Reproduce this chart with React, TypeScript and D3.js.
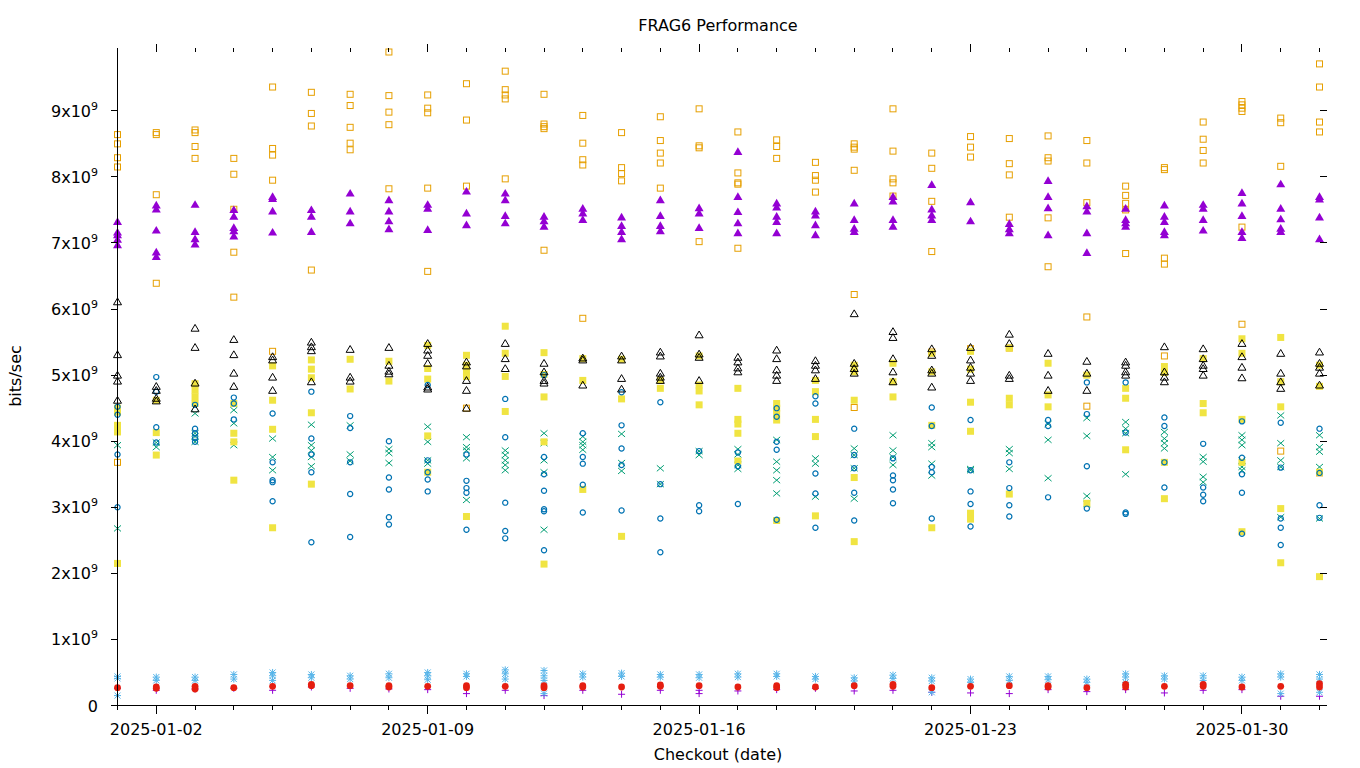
import React from "react";
import * as d3 from "d3";

// Checkout dates (one column per day)
const days: string[] = [
  "2025-01-01","2025-01-02","2025-01-03","2025-01-04","2025-01-05","2025-01-06","2025-01-07","2025-01-08",
  "2025-01-09","2025-01-10","2025-01-11","2025-01-12","2025-01-13","2025-01-14","2025-01-15","2025-01-16",
  "2025-01-17","2025-01-18","2025-01-19","2025-01-20","2025-01-21","2025-01-22","2025-01-23","2025-01-24",
  "2025-01-25","2025-01-26","2025-01-27","2025-01-28","2025-01-29","2025-01-30","2025-01-31","2025-02-01",
];
const xTickLabels: string[] = ["2025-01-02", "2025-01-09", "2025-01-16", "2025-01-23", "2025-01-30"];
const yTicks: number[] = [0, 1, 2, 3, 4, 5, 6, 7, 8, 9]; // in units of 10^9 bits/sec
const yMax = 9.89;

// values in 10^9 bits/sec, one list per day
const purplePlus: number[][] = [
  [0.26],[0.23],[0.25],[0.26],[0.23],[0.28],[0.26],[0.25],[0.24],[0.18],[0.23],[0.15],[0.23],[0.17],[0.23],[0.23,0.18],
  [0.22],[0.24],[0.26],[0.22],[0.23],[0.20],[0.19],[0.18],[0.24],[0.21],[0.24],[0.19],[0.23],[0.24],[0.14],[0.14],
];
const greenCross: number[][] = [
  [3.94,2.68],[3.98,3.91],[4.42,4.12,4.07,3.99],[4.47,4.27,3.94],[4.04,3.76,3.56],[4.25,3.94,3.86,3.76,3.62],
  [4.24,3.80,3.70],[3.88,3.82,3.67],[4.22,3.99,3.71,3.66],[4.06,3.91,3.86,3.74,3.11],[3.86,3.79,3.71,3.64,3.56],
  [4.12,3.97,3.71,3.53,2.66],[4.07,3.99,3.94,3.87],[4.11,3.67,3.55],[3.59,3.35],[3.85,3.79],[3.88,3.80,3.64,3.58],
  [4.02,3.69,3.56,3.41,3.21],[3.74,3.66,3.16],[3.89,3.79,3.59,3.13],[4.09,3.86,3.76,3.64],[3.97,3.91,3.66,3.48],
  [3.58,3.56],[3.88,3.82,3.58],[4.26,4.02,3.44],[4.35,4.08,3.17,3.05],[4.29,4.19,4.12,3.50],[4.14,4.04,3.97,3.89],
  [3.76,3.69,3.46,3.38],[4.09,4.02,3.94,3.71,3.61,3.56],[4.39,3.97,3.71,3.61,2.85],[4.09,3.91,3.84,3.61,2.83],
];
const lightBlueStar: number[][] = [
  [0.44,0.41,0.15],[0.43,0.38],[0.43,0.38],[0.47,0.40],[0.50,0.45,0.38],[0.47,0.42],[0.45,0.40],[0.48,0.42],
  [0.50,0.45,0.39],[0.48,0.44],[0.54,0.48,0.40],[0.53,0.45,0.38,0.18],[0.48,0.43],[0.49,0.44],[0.47,0.43],[0.47,0.42],
  [0.48,0.43],[0.48,0.44],[0.44,0.40],[0.42,0.37],[0.46,0.41],[0.42,0.37,0.20],[0.40,0.35],[0.44,0.38],
  [0.44,0.39],[0.40,0.35],[0.48,0.43,0.35],[0.45,0.40],[0.45,0.38],[0.43,0.38],[0.48,0.43,0.18],[0.47,0.40,0.20],
];
const orangeSquare: number[][] = [
  [8.64,8.50,8.29,8.15,3.68],[8.67,8.64,7.73,6.39],[8.71,8.67,8.46,8.28],[8.28,8.04,7.51,6.86,6.18],
  [9.36,8.43,8.33,7.95,5.36],[9.28,8.96,8.77,6.59],[9.25,9.08,8.75,8.51,8.41],[9.89,9.23,8.98,8.79,7.82],
  [9.24,9.04,8.97,7.83,6.57],[9.41,8.86,7.86,4.50],[9.60,9.32,9.24,9.18,7.97],[9.25,8.80,8.76,8.73,6.89],
  [8.93,8.51,8.26,8.18,5.86],[8.67,8.14,8.05,7.94],[8.91,8.55,8.36,8.21,7.83],[9.03,8.47,8.44,7.02],
  [8.68,8.06,7.91,7.89,6.92],[8.56,8.46,8.28],[8.22,8.02,7.95,7.77],[8.50,8.45,8.42,8.10,6.22,4.51],
  [9.03,8.39,7.97,7.91,7.71],[8.36,8.13,7.63,6.87,5.35],[8.61,8.45,8.30,5.40],[8.58,8.20,8.03,7.39,5.41],
  [8.62,8.29,8.24,7.38,6.64],[8.55,8.21,7.61,5.88,4.53],[7.86,7.72,7.60,7.50,6.84],[8.14,8.11,6.77,6.68,5.29],
  [8.83,8.57,8.40,8.21],[9.14,9.09,9.04,8.99,7.24,5.77],[8.89,8.82,8.16,3.85],[9.71,9.36,8.83,8.68,3.52],
];
const yellowSquare: number[][] = [
  [4.50,4.44,4.24,4.19,4.14,2.15],[4.62,4.13,3.79],[4.87,4.77,4.67,4.57],[4.57,4.12,3.99,3.41],
  [5.14,4.62,4.18,2.69],[5.23,5.09,4.96,4.43,3.35],[5.24,4.79],[5.21,4.91],[5.45,5.10,4.94,4.08,3.53],
  [5.30,5.15,5.05,4.98,2.86],[5.74,5.33,4.98,4.45],[5.34,5.01,4.67,3.99,2.14],[5.25,4.92,3.27],[5.24,4.64,2.56],
  [4.92,4.80],[5.29,4.85,4.76,4.55],[4.80,4.33,4.26,4.12,3.70],[4.57,4.50,4.42,4.32,2.80],[4.92,4.75,4.33,4.07,2.87],
  [5.15,5.05,4.62,3.45,2.48],[5.18,4.90,4.67],[5.33,5.05,4.24,2.69],[5.36,5.09,4.59,4.15,2.91,2.82],
  [5.41,4.65,4.55,3.20],[5.18,4.70,4.52],[5.00,3.06],[4.80,4.65,3.87],[5.13,5.04,3.68,3.13],[5.25,4.57,4.43],
  [5.55,5.33,4.33,3.68,2.63],[5.57,4.90,4.52,2.98,2.16],[5.15,4.83,3.53,1.95],
];
const blueCircle: number[][] = [
  [4.52,4.40,3.80,3.00],[4.97,4.75,4.21,3.98],[4.55,4.19,4.12,4.05,3.99],[4.66,4.57,4.33],[4.42,3.68,3.41,3.38,3.09],
  [4.75,4.04,3.80,3.53,2.47],[4.38,4.20,3.68,3.20,2.55],[4.00,3.45,3.27,2.85,2.74],[4.85,3.71,3.53,3.42,3.24],
  [3.80,3.40,3.29,3.22,2.66],[4.64,4.06,3.07,2.64,2.53],[5.00,3.76,3.50,3.25,2.97,2.94,2.35],[4.12,3.76,3.66,3.34,2.92],
  [4.74,4.24,3.89,3.64,2.95],[4.59,3.35,2.83,2.32],[3.85,3.03,2.94],[3.83,3.62,3.05],[4.50,4.37,3.99,3.87,2.81],
  [4.68,4.57,3.51,3.21,2.69],[4.19,3.79,3.59,3.22,2.80],[3.74,3.48,3.41,3.27,3.06],[4.51,4.23,3.61,3.53,2.83],
  [4.32,3.56,3.24,3.05,2.71],[3.68,3.29,3.03,2.86],[4.32,4.23,3.15],[4.89,4.41,3.62,2.98],[4.89,4.13,2.92,2.90],
  [4.36,4.23,3.68,3.30],[3.96,3.30,3.19,3.09],[4.30,3.75,3.50,3.22,2.60],[4.28,3.60,2.83,2.69,2.43],[4.19,3.52,3.03,2.84],
];
const redDot: number[][] = [
  [0.27],[0.28,0.26],[0.29,0.25],[0.27],[0.29],[0.30,0.32],[0.30],[0.30,0.28],[0.29],[0.30,0.27],[0.29],[0.30,0.27],
  [0.28,0.30],[0.28],[0.29,0.31],[0.30],[0.28],[0.30,0.27],[0.28],[0.30],[0.29,0.32],[0.27],[0.29],[0.30],
  [0.28,0.30],[0.27],[0.32,0.28],[0.29],[0.32,0.29],[0.28],[0.29],[0.33,0.28],
];
const blackTriangle: number[][] = [
  [6.11,5.31,5.00,4.91,4.62],[4.83,4.77,4.65,4.61],[5.71,5.42,4.88,4.49],[5.54,5.31,5.03,4.83],[5.28,5.23,4.97,4.77],
  [5.50,5.43,5.37,4.90],[5.39,4.97,4.91],[5.42,5.15,5.06,5.02],[5.48,5.38,5.30,5.18,4.82,4.79],[5.20,5.14,4.92,4.77,4.50],
  [5.48,5.25,5.10],[5.18,5.05,4.92,4.88],[5.26,5.23,4.85],[5.29,5.23,4.95,4.79],[5.35,5.29,5.03,4.97,4.92],
  [5.61,5.32,5.27,4.92],[5.27,5.20,5.11,5.05],[5.38,5.25,5.08,5.00,4.92],[5.22,5.15,5.08,4.95],[5.93,5.18,5.10,5.03],
  [5.66,5.57,5.25,5.05,4.90],[5.40,5.30,5.08,5.03,4.82],[5.42,5.23,5.12,5.03,4.92],[5.62,5.48,5.00,4.95],
  [5.33,5.00,4.77],[5.21,5.03,4.77],[5.20,5.15,5.05,5.00],[5.43,5.05,4.97,4.90],[5.40,5.25,5.15,5.10,5.00],
  [5.48,5.28,5.12,4.96],[5.33,5.03,4.90,4.80],[5.35,5.18,5.12,5.03,4.85],
];
const purpleTriangle: number[][] = [
  [7.32,7.16,7.12,7.05,6.97],[7.57,7.51,7.19,6.86,6.79],[7.58,7.17,7.06,6.98],[7.50,7.40,7.23,7.18,7.10],
  [7.70,7.67,7.48,7.16],[7.50,7.40,7.17],[7.75,7.48,7.30],[7.65,7.48,7.33,7.21],[7.58,7.52,7.20],[7.78,7.45,7.27],
  [7.75,7.65,7.41,7.30],[7.40,7.33,7.25],[7.52,7.45,7.35],[7.39,7.26,7.17,7.06],[7.65,7.41,7.26,7.18],[7.53,7.45,7.23],
  [8.38,7.70,7.47,7.30,7.15],[7.60,7.54,7.40,7.32,7.15],[7.48,7.42,7.27,7.12],[7.60,7.35,7.22,7.17],[7.70,7.63,7.35,7.25],
  [7.88,7.51,7.42,7.35],[7.62,7.33],[7.29,7.21,7.15],[7.94,7.70,7.53,7.12],[7.56,7.48,7.15,6.85],[7.52,7.35,7.30,7.25],
  [7.57,7.40,7.32,7.17,7.12],[7.58,7.52,7.35,7.19],[7.76,7.60,7.41,7.17,7.08],[7.89,7.52,7.36,7.22,7.17],[7.70,7.66,7.39,7.06],
];

type Shape = "plus" | "cross" | "star" | "square" | "fsquare" | "circle" | "fcircle" | "triangle" | "ftriangle";
const seriesList: { data: number[][]; color: string; shape: Shape }[] = [
  { data: purplePlus, color: "#9400D3", shape: "plus" },
  { data: greenCross, color: "#009E73", shape: "cross" },
  { data: lightBlueStar, color: "#56B4E9", shape: "star" },
  { data: orangeSquare, color: "#E69F00", shape: "square" },
  { data: yellowSquare, color: "#F0E442", shape: "fsquare" },
  { data: blueCircle, color: "#0072B2", shape: "circle" },
  { data: redDot, color: "#E51E10", shape: "fcircle" },
  { data: blackTriangle, color: "#000000", shape: "triangle" },
  { data: purpleTriangle, color: "#9400D3", shape: "ftriangle" },
];

const W = 1360, H = 768;
const left = 117.5, right = 1319.5, top = 52, bottom = 705.5;
const FONT = "'DejaVu Sans', sans-serif";

function Marker({ shape, color, x, y }: { shape: Shape; color: string; x: number; y: number }) {
  const t = `translate(${x},${y})`;
  switch (shape) {
    case "plus":
      return <path transform={t} d="M-3.5,0H3.5M0,-3.5V3.5" stroke={color} strokeWidth={1} fill="none" />;
    case "cross":
      return <path transform={t} d="M-3.5,-3L3.5,3M-3.5,3L3.5,-3" stroke={color} strokeWidth={1} fill="none" />;
    case "star":
      return <path transform={t} d="M-3.5,0H3.5M0,-3.5V3.5M-3,-3L3,3M-3,3L3,-3" stroke={color} strokeWidth={1} fill="none" />;
    case "square":
      return <rect transform={t} x={-3} y={-3} width={6} height={6} stroke={color} strokeWidth={1} fill="none" />;
    case "fsquare":
      return <rect transform={t} x={-3.5} y={-3.5} width={7} height={7} fill={color} />;
    case "circle":
      return <circle transform={t} r={2.6} stroke={color} strokeWidth={1.2} fill="none" />;
    case "fcircle":
      return <circle transform={t} r={3.4} fill={color} />;
    case "triangle":
      return <path transform={t} d="M0,-3.8L4,3L-4,3Z" stroke={color} strokeWidth={1} fill="none" />;
    case "ftriangle":
      return <path transform={t} d="M0,-4.5L4.5,3.2L-4.5,3.2Z" fill={color} />;
  }
}

export default function App() {
  const parse = d3.utcParse("%Y-%m-%d");
  const dates = days.map((d) => parse(d) as Date);
  const x = d3.scaleUtc().domain([dates[0], dates[dates.length - 1]]).range([left, right]);
  const y = d3.scaleLinear().domain([0, yMax]).range([bottom, top]);

  const minorTicks = dates;
  const majorTicks = xTickLabels.map((s) => parse(s) as Date);
  const fmt = d3.utcFormat("%Y-%m-%d");

  return (
    <svg width={W} height={H} style={{ position: "absolute", left: 0, top: 0, background: "#fff" }} fontFamily={FONT}>
      <rect width={W} height={H} fill="#fff" />
      {/* points */}
      <g>
        {seriesList.map((s, si) =>
          s.data.map((vals, di) =>
            vals.map((v, vi) => (
              <Marker key={`${si}-${di}-${vi}`} shape={s.shape} color={s.color} x={x(dates[di])} y={y(v)} />
            ))
          )
        )}
      </g>
      {/* axes */}
      <g stroke="#000" strokeWidth={1} shapeRendering="crispEdges">
        <line x1={left} x2={left} y1={48} y2={bottom} />
        <line x1={left} x2={right} y1={bottom} y2={bottom} />
        {yTicks.map((t) => (
          <g key={`yt${t}`}>
            <line x1={left - 7} x2={left} y1={y(t)} y2={y(t)} />
            <line x1={right} x2={right + 7} y1={y(t)} y2={y(t)} />
          </g>
        ))}
        {minorTicks.map((d, i) => (
          <g key={`xm${i}`}>
            <line x1={x(d)} x2={x(d)} y1={bottom} y2={bottom + 4} />
            <line x1={x(d)} x2={x(d)} y1={top} y2={top - 4} />
          </g>
        ))}
        {majorTicks.map((d, i) => (
          <g key={`xM${i}`}>
            <line x1={x(d)} x2={x(d)} y1={bottom} y2={bottom + 8} />
            <line x1={x(d)} x2={x(d)} y1={top} y2={top - 8} />
          </g>
        ))}
      </g>
      {/* y tick labels */}
      <g fontSize={16} fill="#000">
        {yTicks.map((t) =>
          t === 0 ? (
            <text key={`yl${t}`} x={98} y={y(t) + 6} textAnchor="end">0</text>
          ) : (
            <text key={`yl${t}`} x={98} y={y(t) + 6} textAnchor="end">
              {`${t}x10`}
              <tspan fontSize={11} dy={-7}>9</tspan>
            </text>
          )
        )}
      </g>
      {/* x tick labels */}
      <g fontSize={16} fill="#000">
        {majorTicks.map((d, i) => (
          <text key={`xl${i}`} x={x(d)} y={735} textAnchor="middle">{fmt(d)}</text>
        ))}
      </g>
      <text x={718} y={31} textAnchor="middle" fontSize={16}>FRAG6 Performance</text>
      <text x={718} y={760} textAnchor="middle" fontSize={16}>Checkout (date)</text>
      <text transform="translate(21,376) rotate(-90)" textAnchor="middle" fontSize={16}>bits/sec</text>
    </svg>
  );
}
